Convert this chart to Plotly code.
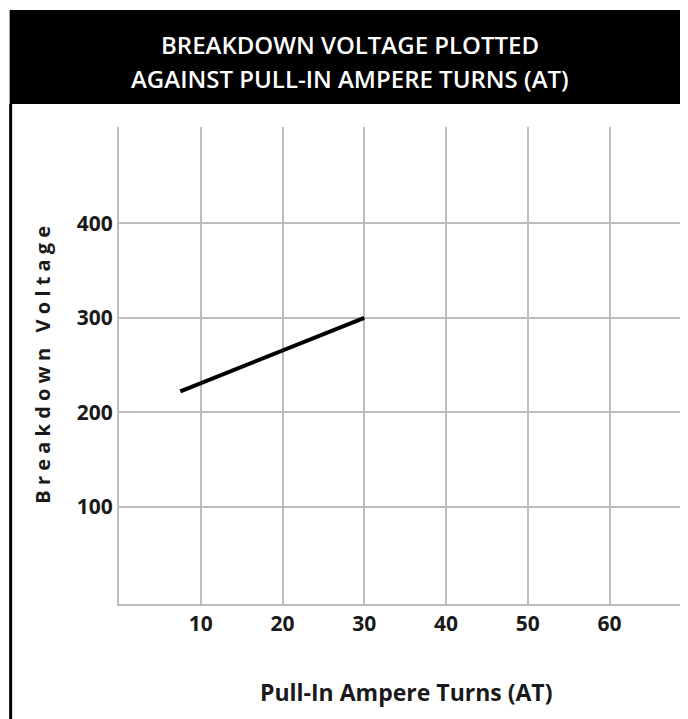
import plotly.graph_objects as go

# ---- data ----
pull_in_at = [7.5, 30]
breakdown_v = [222, 300]
x_ticks = [10, 20, 30, 40, 50, 60]
y_ticks = [100, 200, 300, 400]
title_lines = ["BREAKDOWN VOLTAGE PLOTTED", "AGAINST PULL-IN AMPERE TURNS (AT)"]
x_title = "Pull-In Ampere Turns (AT)"
y_title = "B r e a k d o w n   V o l t a g e"

OFF = 8  # page body margin
W, H = 688 - OFF, 719 - OFF
L, R, T, B = 119.3 - OFF, 688 - OFF, 127 - OFF, 604 - OFF  # plot area in figure pixels

def px(xp):
    return (xp - OFF - L) / (R - L)

def py(yp):
    return (B - (yp - OFF)) / (B - T)

FONT = "Open Sans"
GRID = "#bdbdbd"
TXT = "#1a1a1a"

fig = go.Figure()
fig.add_trace(go.Scatter(x=pull_in_at, y=breakdown_v, mode="lines",
                         line=dict(color="black", width=4), showlegend=False,
                         hoverinfo="skip"))

fig.update_layout(
    width=W, height=H,
    margin=dict(l=L, r=W - R, t=T, b=H - B, pad=0),
    paper_bgcolor="white", plot_bgcolor="white",
    xaxis=dict(range=[0, 69.6], tickvals=x_ticks, showgrid=True, gridcolor=GRID,
               gridwidth=2, showline=True, linecolor=GRID, linewidth=2,
               zeroline=False, ticks="", ticklabelstandoff=0,
               tickfont=dict(family=FONT, size=21, color=TXT, weight="bold")),
    yaxis=dict(range=[-3, 502], tickvals=y_ticks, showgrid=True, gridcolor=GRID,
               gridwidth=2, showline=True, linecolor=GRID, linewidth=2,
               zeroline=False, ticks="", ticklabelstandoff=0,
               tickfont=dict(family=FONT, size=21, color=TXT, weight="bold")),
    shapes=[
        dict(type="rect", xref="paper", yref="paper", x0=px(10), x1=px(692),
             y0=py(104), y1=py(10), fillcolor="black", line=dict(width=0), layer="above"),
        dict(type="line", xref="paper", yref="paper", x0=px(11), x1=px(11),
             y0=py(104), y1=py(725), line=dict(color="black", width=3)),
    ],
    annotations=[
        dict(text=title_lines[0], xref="paper", yref="paper", x=px(350), y=py(45),
             showarrow=False, xanchor="center", yanchor="middle",
             font=dict(family=FONT, size=24, color="white", weight=600)),
        dict(text=title_lines[1], xref="paper", yref="paper", x=px(350), y=py(78),
             showarrow=False, xanchor="center", yanchor="middle",
             font=dict(family=FONT, size=24, color="white", weight=600)),
        dict(text=x_title, xref="paper", yref="paper", x=px(407), y=py(692),
             showarrow=False, xanchor="center", yanchor="middle",
             font=dict(family=FONT, size=23, color=TXT, weight="bold")),
        dict(text=y_title, xref="paper", yref="paper", x=px(42), y=py(365),
             showarrow=False, xanchor="center", yanchor="middle", textangle=-90,
             font=dict(family=FONT, size=20, color=TXT, weight="bold")),
    ],
)

fig.write_html("out.html")
